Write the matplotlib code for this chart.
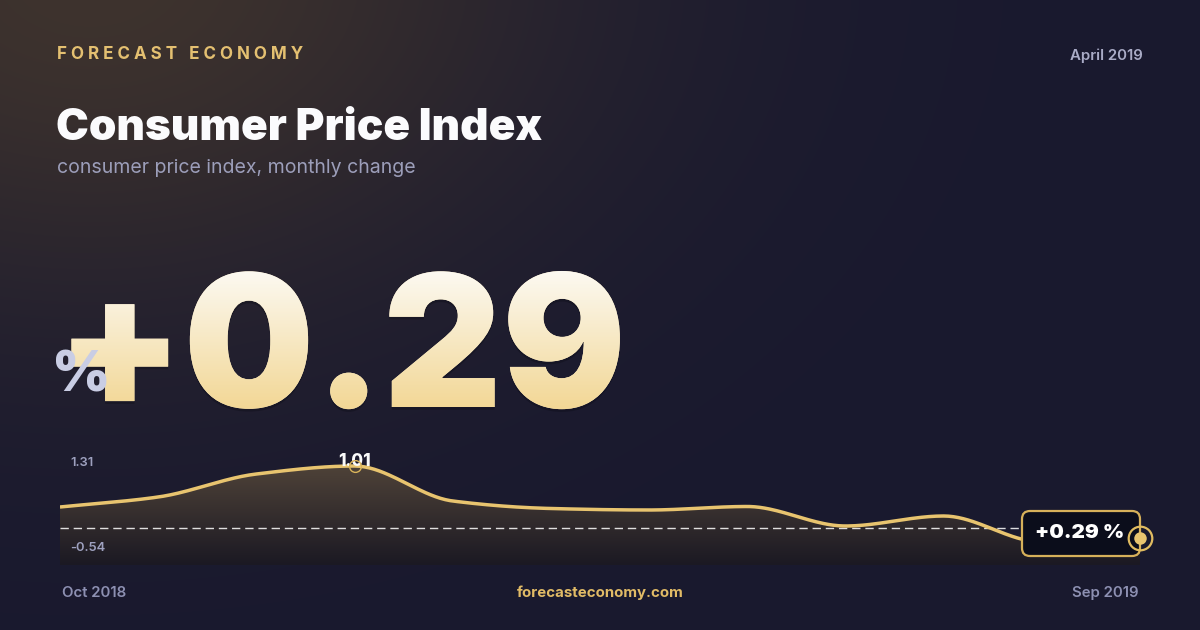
import numpy as np
import matplotlib
matplotlib.use("Agg")
import matplotlib.pyplot as plt
from matplotlib.patches import FancyBboxPatch
from matplotlib.patheffects import AbstractPathEffect, withSimplePatchShadow
from matplotlib.transforms import Bbox

# ---------------- data ----------------
months = ["Oct 2018", "Nov 2018", "Dec 2018", "Jan 2019", "Feb 2019", "Mar 2019",
          "Apr 2019", "May 2019", "Jun 2019", "Jul 2019", "Aug 2019", "Sep 2019"]
values = [0.60, 0.70, 0.93, 1.01, 0.66, 0.585, 0.57, 0.605, 0.41, 0.51, 0.25, 0.29]
reference_value = 0.39
axis_top_label = "1.31"
axis_bottom_label = "-0.54"
headline_value = "+0.29"
peak_label = "1.01"
last_label = "+0.29 %"

W, H = 1200, 630
FONT = "Inter"
plt.rcParams["font.family"] = [FONT, "DejaVu Sans"]

fig = plt.figure(figsize=(W / 100, H / 100), dpi=100)

# ---------------- background ----------------
bg = fig.add_axes([0, 0, 1, 1], zorder=0)
yy, xx = np.mgrid[0:H, 0:W]
base = np.array([25, 25, 47]) / 255
glow = np.array([62, 51, 45]) / 255
w = np.exp(-(((xx - 90) ** 2) / (2 * 340 ** 2) + ((yy + 30) ** 2) / (2 * 240 ** 2)))
img = base[None, None, :] * (1 - w[..., None]) + glow[None, None, :] * w[..., None]
bg.imshow(img, extent=[0, W, H, 0], aspect="auto", interpolation="bilinear")
bg.set_xlim(0, W)
bg.set_ylim(H, 0)
bg.axis("off")

# overlay axes in pixel coordinates for text
ov = fig.add_axes([0, 0, 1, 1], zorder=5)
ov.set_xlim(0, W)
ov.set_ylim(H, 0)
ov.axis("off")
ov.patch.set_alpha(0)


def pt(px):
    return px * 0.72


# ---------------- header texts ----------------
ov.text(57, 59, " ".join("FORECAST ECONOMY"), color="#e4c071",
        fontsize=pt(17), fontweight="bold", ha="left", va="baseline")
ov.text(1143, 60, "April 2019", color="#a9abc6", fontsize=pt(15), fontweight="semibold",
        ha="right", va="baseline")
ov.text(56, 140, "Consumer Price Index", color="#fbfbfd", fontsize=pt(44),
        fontweight="black", ha="left", va="baseline")
ov.text(57, 173, "consumer price index, monthly change", color="#9c9eba",
        fontsize=pt(19.5), fontweight="normal", ha="left", va="baseline")


# ---------------- big number with gradient ----------------
class GradientFill(AbstractPathEffect):
    def __init__(self, top, bottom, y_top, y_bot):
        super().__init__()
        self.top = np.array(matplotlib.colors.to_rgb(top))
        self.bottom = np.array(matplotlib.colors.to_rgb(bottom))
        self.y_top = y_top
        self.y_bot = y_bot

    def draw_path(self, renderer, gc, tpath, affine, rgbFace=None):
        y0 = int(np.floor(self.y_bot)) - 6
        y1 = int(np.ceil(self.y_top)) + 6
        for y in range(y0, y1):
            t = np.clip((y + 0.5 - self.y_bot) / (self.y_top - self.y_bot), 0, 1)
            col = self.bottom * (1 - t) + self.top * t
            gc0 = renderer.new_gc()
            gc0.copy_properties(gc)
            gc0.set_clip_rectangle(Bbox([[0, y], [W, y + 1]]))
            gc0.set_linewidth(0)
            renderer.draw_path(gc0, tpath, affine, tuple(col))
            gc0.restore()


big = ov.text(56, 407, headline_value, color="#f7e6bb", fontsize=pt(184),
              fontweight="black", ha="left", va="baseline")
big.set_path_effects([
    withSimplePatchShadow(offset=(0, -2), shadow_rgbFace="#05060d", alpha=0.25),
    GradientFill("#fcfbf7", "#f2d796", y_top=H - 262, y_bot=H - 407),
])
ov.text(52, 392, "%", color="#c9cde4", fontsize=pt(56), fontweight="black",
        ha="left", va="baseline", zorder=6)

# ---------------- line chart ----------------
x = np.arange(len(values))
yv = np.array(values, dtype=float)


def monotone_curve(xs, ys, per=40):
    xs = np.asarray(xs, float)
    ys = np.asarray(ys, float)
    h = np.diff(xs)
    d = np.diff(ys) / h
    m = np.zeros_like(ys)
    m[0], m[-1] = d[0], d[-1]
    for k in range(1, len(ys) - 1):
        if d[k - 1] * d[k] <= 0:
            m[k] = 0
        else:
            w1 = 2 * h[k] + h[k - 1]
            w2 = h[k] + 2 * h[k - 1]
            m[k] = (w1 + w2) / (w1 / d[k - 1] + w2 / d[k])
    ox, oy = [], []
    for k in range(len(xs) - 1):
        t = np.linspace(0, 1, per, endpoint=(k == len(xs) - 2))
        h00 = 2 * t ** 3 - 3 * t ** 2 + 1
        h10 = t ** 3 - 2 * t ** 2 + t
        h01 = -2 * t ** 3 + 3 * t ** 2
        h11 = t ** 3 - t ** 2
        ox.append(xs[k] + t * h[k])
        oy.append(h00 * ys[k] + h10 * h[k] * m[k] + h01 * ys[k + 1] + h11 * h[k] * m[k + 1])
    return np.concatenate(ox), np.concatenate(oy)


cx, cy = monotone_curve(x, yv)

ax = fig.add_axes([60 / W, (H - 565) / H, 1080 / W, 105 / H], zorder=3)
ax.set_xlim(x[0], x[-1])
ymin, ymax = 0.02, 1.07
ax.set_ylim(ymin, ymax)
ax.axis("off")
ax.patch.set_alpha(0)

poly = ax.fill_between(cx, cy, ymin, color="none", lw=0)
grad = np.linspace(0, 1, 256)[:, None]
top_c = np.array([78, 66, 56]) / 255
bot_c = np.array([27, 25, 35]) / 255
gimg = top_c[None, None, :] * (1 - grad[..., None]) + bot_c[None, None, :] * grad[..., None]
gimg = np.repeat(gimg, 2, axis=1)
im = ax.imshow(gimg, extent=[x[0], x[-1], ymin, 1.01], aspect="auto",
               interpolation="bilinear", zorder=1)
im.set_clip_path(poly.get_paths()[0], transform=ax.transData)
ax.set_ylim(ymin, ymax)

ax.axhline(reference_value, color="white", lw=1, dashes=(6, 3.5), alpha=0.85, zorder=2)
ax.plot(cx, cy, color="#e8c46f", lw=2.5, solid_capstyle="butt", zorder=3)

ip = int(np.argmax(yv))
ax.text(x[ip], yv[ip] + 0.003, peak_label, color="#fafafa", fontsize=pt(17),
        fontweight="heavy", ha="center", va="baseline", zorder=4)
ax.plot(x[ip], yv[ip], "o", ms=8.5, mfc="none", mec="#d9b45a", mew=1.0, zorder=5)

# last value badge
ov.add_patch(FancyBboxPatch((1022, 511), 118, 45,
                            boxstyle="round,pad=0,rounding_size=8",
                            fc="#0b0d1b", ec="#d6b05a", lw=1.6, zorder=7))
ov.text(1080, 538.5, last_label, color="#ffffff", fontsize=pt(20.5),
        fontweight="black", ha="center", va="baseline", zorder=8)
ov.plot(1140, 538, "o", ms=9, mfc="#e8c46f", mec="none", zorder=9)
ov.plot(1140, 538, "o", ms=17, mfc="none", mec="#e0bb60", mew=1.6, zorder=9)

ov.text(70, 466, axis_top_label, color="#9ea1bf", fontsize=pt(13), fontweight="semibold",
        ha="left", va="baseline")
ov.text(70, 551, axis_bottom_label, color="#9ea1bf", fontsize=pt(13), fontweight="semibold",
        ha="left", va="baseline")

# ---------------- footer ----------------
ov.text(62, 597, months[0], color="#8d90b2", fontsize=pt(15), fontweight="semibold",
        ha="left", va="baseline")
ov.text(1139, 597, months[-1], color="#8d90b2", fontsize=pt(15), fontweight="semibold",
        ha="right", va="baseline")
ov.text(600, 597, "forecasteconomy.com", color="#e1bb66", fontsize=pt(15),
        fontweight="bold", ha="center", va="baseline")

fig.savefig("out.png", dpi=100)
